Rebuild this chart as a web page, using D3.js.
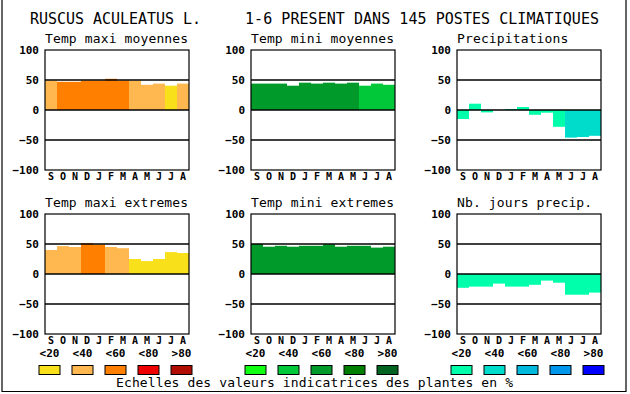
<html>
<head>
  <meta charset="utf8">
  <title>Ruscus aculeatus</title>
  <style>
  * { margin: 0; padding: 0; }
  body { background: #fff; }
  text { font-family: "DejaVu Sans Mono", monospace; fill: #000; }
  .tick text { font-weight: bold; font-size: 11px; }
  .month { font-weight: bold; font-size: 10px; }
  .frame { fill: none; stroke: #000; stroke-width: 1.2px; }
  .grid { stroke: #000; stroke-width: 1.6px; }
  .swatch { stroke: #000; stroke-width: 1px; }
  </style>
</head>
<body>
  <script src="https://cdn.jsdelivr.net/npm/d3@7"></script>
  <script>

  var months = ["S", "O", "N", "D", "J", "F", "M", "A", "M", "J", "J", "A"]
  var yTicks = [100, 50, 0, -50, -100]
  var gridVals = [50, 0, -50]
  var legendLabels = ["<20", "<40", "<60", "<80", ">80"]

  // palettes (classes <20 .. >80)
  var warmColors = ["#f8e01a", "#ffb850", "#ff8000", "#ee0000", "#b00c00"]
  var greenColors = ["#10ff10", "#00c838", "#009a2a", "#007e00", "#006420"]
  var blueColors = ["#00ffaa", "#00dccb", "#00b8dc", "#0096ec", "#0000ff"]

  // values, one per month (Sept -> Aug)
  var maxiMoy = [49, 47, 47, 49, 49, 52, 49, 49, 42, 44, 40.5, 44]
  var maxiMoyCls = [1, 2, 2, 2, 2, 2, 2, 1, 1, 1, 0, 1]
  var miniMoy = [44, 44, 44, 40.5, 45.5, 44, 45.5, 44, 45.5, 40.5, 44, 42]
  var miniMoyCls = [2, 2, 2, 2, 2, 2, 2, 2, 2, 1, 1, 1]
  var precip = [-15, 10.5, -4, 0, 1.5, 5, -8, -4.5, -28, -46, -45, -43]
  var precipCls = [0, 0, 0, 0, 0, 0, 0, 0, 0, 1, 1, 1]
  var maxiExt = [40, 46.5, 45, 51.5, 49, 45, 43, 25, 21.5, 25, 36.5, 35]
  var maxiExtCls = [1, 1, 1, 2, 2, 1, 1, 0, 0, 0, 0, 0]
  var miniExt = [50, 45.5, 47, 45.5, 47, 47, 49.5, 45.5, 47, 47, 44, 45.5]
  var miniExtCls = [2, 2, 2, 2, 2, 2, 2, 2, 2, 2, 2, 2]
  var joursPrecip = [-23, -21, -21, -16, -21, -21, -18, -11, -14.5, -34.5, -34.5, -31]
  var joursPrecipCls = [0, 0, 0, 0, 0, 0, 0, 0, 0, 0, 0, 0]

  var panels = [
    {title: "Temp maxi moyennes", vals: maxiMoy, cls: maxiMoyCls, pal: warmColors, col: 0, row: 0},
    {title: "Temp mini moyennes", vals: miniMoy, cls: miniMoyCls, pal: greenColors, col: 1, row: 0},
    {title: "Precipitations", vals: precip, cls: precipCls, pal: blueColors, col: 2, row: 0},
    {title: "Temp maxi extremes", vals: maxiExt, cls: maxiExtCls, pal: warmColors, col: 0, row: 1},
    {title: "Temp mini extremes", vals: miniExt, cls: miniExtCls, pal: greenColors, col: 1, row: 1},
    {title: "Nb. jours precip.", vals: joursPrecip, cls: joursPrecipCls, pal: blueColors, col: 2, row: 1}
  ]

  var W = 630, H = 394
  var colX = [45, 251, 457], rowY = [50, 214]
  var pw = 144, ph = 120

  var svg = d3.select("body")
    .append("svg")
    .attr("width", W)
    .attr("height", H)
    .attr("viewBox", `0 0 ${W} ${H}`)

  // outer frame (no top line)
  svg.append("path")
    .attr("d", "M2 0V391.5H626V0")
    .attr("fill", "none")
    .attr("stroke", "#000")
    .attr("stroke-width", 1.2)

  svg.append("text")
    .attr("x", 30).attr("y", 24)
    .attr("font-size", 15)
    .attr("textLength", 171)
    .text("RUSCUS ACULEATUS L.")
  svg.append("text")
    .attr("x", 245).attr("y", 24)
    .attr("font-size", 15)
    .attr("textLength", 354)
    .text("1-6 PRESENT DANS 145 POSTES CLIMATIQUES")

  var x = d3.scaleBand().domain(d3.range(12)).range([0, pw]).padding(0)
  var y = d3.scaleLinear().domain([-100, 100]).range([ph, 0])

  panels.forEach(function (p) {
    var g = svg.append("g")
      .attr("transform", "translate(" + colX[p.col] + "," + rowY[p.row] + ")")

    g.append("text")
      .attr("x", 0).attr("y", -7)
      .attr("font-size", 13)
      .attr("textLength", p.title.length * 7.95)
      .text(p.title)

    g.selectAll(".bar")
      .data(p.vals)
      .enter()
      .append("rect")
      .attr("class", "bar")
      .attr("x", (d, i) => x(i))
      .attr("width", x.bandwidth())
      .attr("y", d => y(Math.max(0, d)))
      .attr("height", d => Math.abs(y(d) - y(0)))
      .attr("fill", (d, i) => p.pal[p.cls[i]])

    g.selectAll(".grid")
      .data(gridVals)
      .enter()
      .append("line")
      .attr("class", "grid")
      .attr("x1", 0).attr("x2", pw)
      .attr("y1", d => y(d)).attr("y2", d => y(d))

    g.append("rect")
      .attr("class", "frame")
      .attr("width", pw).attr("height", ph)

    var ax = g.append("g")
      .attr("transform", "translate(-6,0)")
      .call(d3.axisLeft(y).tickValues(yTicks).tickSize(0).tickPadding(0).tickFormat(d3.format("d")))
    ax.select(".domain").remove()
    ax.selectAll("text").attr("dy", "0.36em")
    ax.attr("font-family", null).attr("font-size", null)

    g.selectAll(".month")
      .data(months)
      .enter()
      .append("text")
      .attr("class", "month")
      .attr("x", (d, i) => x(i) + x.bandwidth() / 2)
      .attr("y", ph + 10)
      .style("text-anchor", "middle")
      .text(d => d)
  })

  // legends below each column
  var lx = d3.scalePoint().domain(legendLabels).range([4.5, 136.5])
  ;[warmColors, greenColors, blueColors].forEach(function (pal, c) {
    var lg = svg.append("g")
      .attr("transform", "translate(" + colX[c] + ",0)")
    lg.selectAll(".lab")
      .data(legendLabels)
      .enter()
      .append("text")
      .attr("class", "month")
      .style("font-size", "11px")
      .attr("x", d => lx(d))
      .attr("y", 357)
      .style("text-anchor", "middle")
      .text(d => d)
    lg.selectAll(".swatch")
      .data(legendLabels)
      .enter()
      .append("rect")
      .attr("class", "swatch")
      .attr("x", d => lx(d) - 10.5)
      .attr("y", 365.5)
      .attr("width", 21)
      .attr("height", 9)
      .attr("fill", (d, i) => pal[i])
  })

  svg.append("text")
    .attr("x", 116).attr("y", 387)
    .attr("font-size", 13)
    .attr("textLength", 397)
    .text("Echelles des valeurs indicatrices des plantes en %")
  </script>
</body>
</html>
